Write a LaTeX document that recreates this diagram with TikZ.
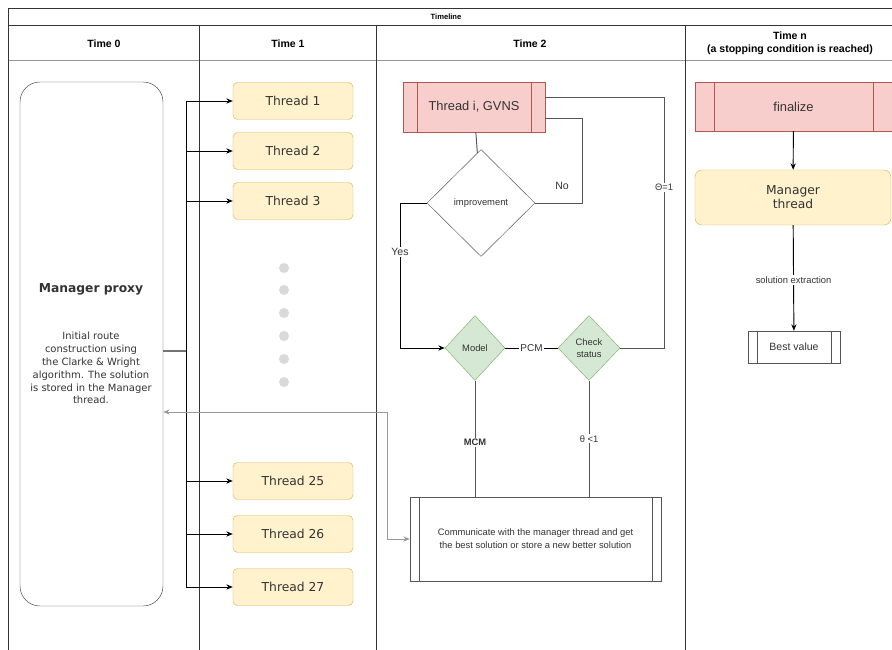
\documentclass[tikz,border=0pt]{standalone}
\usepackage{fontspec}
\setmainfont{Liberation Sans}
\newfontfamily\verdana{DejaVu Sans}
\usetikzlibrary{
  arrows.meta,
  calc,
  positioning,
  shapes.geometric
}
\definecolor{thrfill}{HTML}{FFF2CC}
\definecolor{thrline}{HTML}{D6B656}
\definecolor{redfill}{HTML}{F8CECC}
\definecolor{redline}{HTML}{B85450}
\definecolor{grnfill}{HTML}{D5E8D4}
\definecolor{grnline}{HTML}{82B366}
\definecolor{txtgray}{HTML}{333333}
\definecolor{linegray}{HTML}{555555}
\definecolor{backgray}{HTML}{999999}
\definecolor{dotgray}{HTML}{D9D9D9}
\tikzset{>={Stealth[length=5.5pt,width=4.5pt]}}
\tikzset{
  thread/.style={draw=thrline, fill=thrfill, rounded corners=4pt,
    minimum width=3.6cm, minimum height=1.11cm, text=txtgray,
    font=\verdana\fontsize{10.5}{12}\selectfont},
  proc/.style={draw=redline, fill=redfill, inner sep=0pt, text=txtgray,
    font=\fontsize{11}{13}\selectfont},
  plainproc/.style={draw=linegray, fill=white, inner sep=0pt, text=txtgray},
  decide/.style={diamond, aspect=1, inner sep=0pt, text=txtgray,
    font=\fontsize{8}{10}\selectfont, align=center},
  lbl/.style={fill=white, inner sep=1pt, text=txtgray,
    font=\fontsize{8}{10}\selectfont},
  head/.style={font=\bfseries\fontsize{9}{11}\selectfont, align=center},
  frame/.style={draw=black!80, line width=0.6pt},
  link/.style={draw=linegray, line width=0.8pt}
}
\begin{document}
\begin{tikzpicture}[x=0.03cm, y=-0.03cm]
\useasboundingbox (0,0) rectangle (892,650);
% table
\draw[frame] (8,8) -- (892,8);
\draw[frame] (8,25) -- (892,25);
\draw[frame, draw=black!40] (8,60) -- (892,60);
\draw[frame] (8,8) -- (8,650);
\draw[frame] (199,25) -- (199,650);
\draw[frame] (376,25) -- (376,650);
\draw[frame] (685,25) -- (685,650);
\node[head, font=\bfseries\fontsize{6.5}{8}\selectfont] (tl) at (446,17) {Timeline};
\node[head] (h0) at (104,44) {Time 0};
\node[head] (h1) at (288,44) {Time 1};
\node[head] (h2) at (530,44) {Time 2};
\node[head] (hn) at (790,43) {Time n\\(a stopping condition is reached)};

% time 0
\node[draw=black!75, rounded corners=17pt, minimum width=4.29cm,
  minimum height=15.72cm] (mp) at (91.5,344) {};
\node[text=txtgray, font=\verdana\bfseries\fontsize{10.5}{12}\selectfont] (mptitle) at (91,289) {Manager proxy};
\node[text=txtgray, align=center, font=\verdana\fontsize{8.5}{11}\selectfont] (mptext) at (91,368)
  {Initial route\\construction using\\the Clarke \& Wright\\algorithm. The solution\\is stored in the Manager\\thread.};

% time 1
\node[thread] (t1) at (293,101) {Thread 1};
\node[thread] (t2) at (293,151) {Thread 2};
\node[thread] (t3) at (293,201) {Thread 3};
\node[thread] (t25) at (293,481) {Thread 25};
\node[thread] (t26) at (293,534) {Thread 26};
\node[thread] (t27) at (293,587) {Thread 27};
\foreach \y in {268,290,313,336,359,382}
  \fill[dotgray] (284,\y) circle (4.3pt);
\coordinate (bus) at (186,351);
\draw[draw=black!55, line width=2pt] (mp.east |- bus) -- (bus);
\draw[line width=0.8pt] (bus |- t1) -- (bus |- t27);
\foreach \t in {t1,t2,t3,t25,t26,t27}
  \draw[->, line width=0.8pt] (bus |- \t) -- (\t);

% time 2
\node[proc, minimum width=4.26cm, minimum height=1.5cm] (tg) at (474,107) {Thread i, GVNS};
\draw[draw=redline] ([xshift=0.42cm]tg.north west) -- ([xshift=0.42cm]tg.south west);
\draw[draw=redline] ([xshift=-0.42cm]tg.north east) -- ([xshift=-0.42cm]tg.south east);
\node[decide, draw=linegray, fill=white, minimum width=3.24cm, minimum height=3.21cm] (imp) at (481,203) {improvement};
\node[decide, draw=grnline, fill=grnfill, minimum width=1.8cm, minimum height=1.95cm] (model) at (475,348) {Model};
\node[decide, draw=grnline, fill=grnfill, minimum width=1.86cm, minimum height=1.95cm] (check) at (589,348) {Check\\status};
\node[plainproc, minimum width=7.53cm, minimum height=2.52cm, align=center,
  font=\fontsize{8}{11}\selectfont] (comm) at (535.5,539)
  {Communicate with the manager thread and get\\the best solution or store a new better solution};
\draw[draw=linegray] ([xshift=0.27cm]comm.north west) -- ([xshift=0.27cm]comm.south west);
\draw[draw=linegray] ([xshift=-0.27cm]comm.north east) -- ([xshift=-0.27cm]comm.south east);

\draw[link] (tg) -- (imp);
\coordinate (noturn) at (582,118);
\draw[link] (imp.east) -| node[lbl, pos=0.6, font=\fontsize{9}{11}\selectfont, xshift=-17pt] {No} (noturn) -- (noturn -| tg.east);
\coordinate (yesturn) at (400,203);
\draw[->, line width=0.8pt] (imp.west) -- (yesturn) |- node[lbl, pos=0.17, font=\fontsize{9}{11}\selectfont] {Yes} (model);
\draw[line width=0.8pt] (model) -- node[lbl, font=\fontsize{8.5}{10}\selectfont] {PCM} (check);
\coordinate (okturn) at (664,97);
\draw[link] (check.east) -| node[lbl, pos=0.82] {Θ=1} (okturn) -- (okturn -| tg.east);
\draw[link] (model) -- node[lbl, pos=0.53, font=\bfseries\fontsize{8}{10}\selectfont] {MCM} (model |- comm.north);
\draw[link] (check) -- node[lbl, pos=0.5] {θ <1} (check |- comm.north);
\coordinate (back) at (387,412);
\draw[<->, draw=backgray, line width=0.8pt] (comm.west) -| (back) -- (back -| mp.east);

% time n
\node[proc, minimum width=5.91cm, minimum height=1.47cm] (fin) at (793.5,106.5) {finalize};
\draw[draw=redline] ([xshift=0.57cm]fin.north west) -- ([xshift=0.57cm]fin.south west);
\draw[draw=redline] ([xshift=-0.57cm]fin.north east) -- ([xshift=-0.57cm]fin.south east);
\node[thread, minimum width=5.88cm, minimum height=1.65cm, align=center,
  rounded corners=6pt] (mt) at (793,197.5) {Manager\\thread};
\node[plainproc, minimum width=2.76cm, minimum height=0.96cm, font=\fontsize{9}{11}\selectfont] (best) at (794,347) {Best value};
\draw[draw=linegray] ([xshift=0.27cm]best.north west) -- ([xshift=0.27cm]best.south west);
\draw[draw=linegray] ([xshift=-0.27cm]best.north east) -- ([xshift=-0.27cm]best.south east);
\draw[->, line width=0.8pt] (fin) -- (mt);
\draw[->, line width=0.8pt] (mt) -- node[lbl, pos=0.52] {solution extraction} (best);
\end{tikzpicture}
\end{document}
